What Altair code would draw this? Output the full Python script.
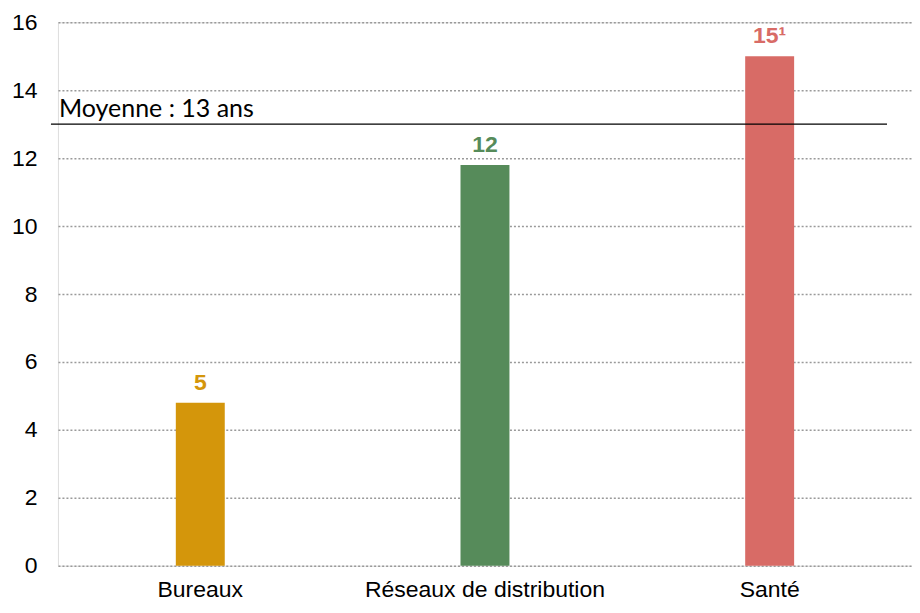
import altair as alt
import pandas as pd

categories = ["Bureaux", "Réseaux de distribution", "Santé"]
values = [4.8, 11.8, 15.0]
value_labels = ["5", "12", "15¹"]
colors = ["#D4960B", "#568B5A", "#D86B66"]
mean_value = [13.0]
mean_label = ["Moyenne : 13 ans"]
y_ticks = [0, 2, 4, 6, 8, 10, 12, 14, 16]

df = pd.DataFrame({"cat": categories, "val": values, "lab": value_labels, "col": colors})
mean_df = pd.DataFrame({"m": mean_value, "t": mean_label})

FONT = "Liberation Sans"

x_scale = alt.Scale(domain=categories, paddingInner=0.0, paddingOuter=0.0)
x_enc = alt.X("cat:N", sort=categories, title=None, scale=x_scale,
              axis=alt.Axis(labelAngle=0, domain=False, ticks=False, labelPadding=13,
                            labelFontSize=23, labelFont=FONT, labelColor="#000000",
                            grid=False, labelLimit=0))
y_scale = alt.Scale(domain=[0, 16], nice=False)
y_axis = alt.Axis(values=y_ticks, domain=False, ticks=False, labelPadding=21,
                  labelFontSize=23, labelFont=FONT, labelColor="#000000",
                  grid=True, gridColor="#9a9a9a", gridDash=[2, 2], gridWidth=1.5, title=None)

bars = alt.Chart(df).mark_bar(size=49).encode(
    x=x_enc,
    y=alt.Y("val:Q", scale=y_scale, axis=y_axis),
    color=alt.Color("col:N", scale=None, legend=None),
)

labels = alt.Chart(df).mark_text(baseline="bottom", dy=-8, fontSize=23, fontWeight="bold", font=FONT).encode(
    x=alt.X("cat:N", sort=categories, scale=x_scale),
    y=alt.Y("val:Q", scale=y_scale),
    text="lab:N",
    color=alt.Color("col:N", scale=None, legend=None),
)

rule = alt.Chart(mean_df).mark_rule(color="#000000", strokeWidth=1.2).encode(
    y=alt.Y("m:Q", scale=y_scale),
    x=alt.value(-7),
    x2=alt.value(830),
)

mean_text = alt.Chart(mean_df).mark_text(align="left", baseline="bottom", dx=0, dy=-2,
                                         fontSize=25, font="Lato", color="#000000").encode(
    y=alt.Y("m:Q", scale=y_scale),
    x=alt.value(1),
    text="t:N",
)

chart = alt.layer(bars, labels, rule, mean_text).properties(
    width=855, height=544,
    padding={"left": 3, "top": 3, "right": 0, "bottom": 0},
).configure_view(stroke=None).configure(background="#ffffff")

chart.save("out.html", embed_options={"renderer": "svg", "actions": False})
